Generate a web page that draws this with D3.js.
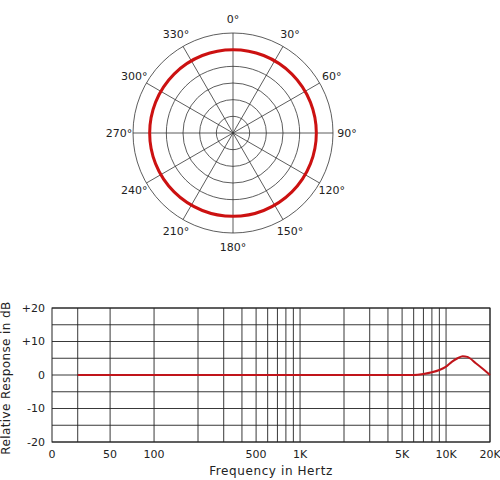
<!DOCTYPE html>
<html>
<head>
<meta charset="utf-8">
<script src="https://cdn.jsdelivr.net/npm/d3@7"></script>
<style>
  body { margin: 0; background: #fff; }
  text { font-family: "DejaVu Sans", sans-serif; fill: #222; }
</style>
</head>
<body>
<svg id="chart" width="500" height="480"></svg>
<script>
// Polar pattern data
const polarAngles = [0, 30, 60, 90, 120, 150, 180, 210, 240, 270, 300, 330];
const polarRings = [1, 2, 3, 4, 5, 6];
const polarLevel = 5; // omni pattern sits on the 5th ring

// Frequency response data
const freqHz = [30, 100, 1000, 6000, 7000, 8000, 9000, 10000, 11000, 12000, 13000, 14000, 16000, 18000, 20000];
const responseDb = [0, 0, 0, 0, 0.3, 0.8, 1.5, 2.5, 4, 5, 5.6, 5.4, 3.5, 1.7, 0];
const gridHz = [30, 50, 100, 200, 300, 400, 500, 600, 700, 800, 900, 1000, 2000, 3000, 4000, 5000, 6000, 7000, 8000, 9000, 10000, 20000];
const freqTickHz = [20, 50, 100, 500, 1000, 5000, 10000, 20000];
const freqTickLabels = ["0", "50", "100", "500", "1K", "5K", "10K", "20K"];
const dbTicks = [20, 10, 0, -10, -20];
const dbTickLabels = ["+20", "+10", "0", "-10", "-20"];

const svg = d3.select("#chart");

// ---- polar plot ----
const cx = 233, cy = 133, R = 100;
const r = d3.scaleLinear().domain([0, 6]).range([0, R]);
const polar = svg.append("g").attr("transform", `translate(${cx},${cy})`);

polar.selectAll("circle.ring").data(polarRings).join("circle")
  .attr("class", "ring").attr("r", d => r(d))
  .attr("fill", "none").attr("stroke", "#333").attr("stroke-width", 0.8);

polar.selectAll("line.spoke").data(polarAngles).join("line")
  .attr("class", "spoke")
  .attr("x1", 0).attr("y1", 0)
  .attr("x2", d => R * Math.sin(d * Math.PI / 180))
  .attr("y2", d => -R * Math.cos(d * Math.PI / 180))
  .attr("stroke", "#333").attr("stroke-width", 0.8);

polar.append("circle").attr("r", r(polarLevel))
  .attr("fill", "none").attr("stroke", "#cc1111").attr("stroke-width", 3);

polar.selectAll("text.ang").data(polarAngles).join("text")
  .attr("class", "ang")
  .attr("x", d => 114 * Math.sin(d * Math.PI / 180))
  .attr("y", d => -114 * Math.cos(d * Math.PI / 180))
  .attr("text-anchor", "middle").attr("dominant-baseline", "central")
  .attr("font-size", 11)
  .text(d => d + "°");

// ---- frequency response ----
const plotLeft = 52, plotRight = 490, plotTop = 308, plotBottom = 442;
const x = d3.scaleLog().domain([20, 20000]).range([plotLeft, plotRight]);
const y = d3.scaleLinear().domain([-20, 20]).range([plotBottom, plotTop]);
const fr = svg.append("g");

fr.selectAll("line.h").data(d3.range(-20, 21, 5)).join("line")
  .attr("class", "h").attr("x1", plotLeft).attr("x2", plotRight)
  .attr("y1", d => y(d)).attr("y2", d => y(d))
  .attr("stroke", "#222").attr("stroke-width", 0.9);

fr.selectAll("line.v").data(gridHz).join("line")
  .attr("class", "v").attr("y1", plotTop).attr("y2", plotBottom)
  .attr("x1", d => x(d)).attr("x2", d => x(d))
  .attr("stroke", "#222").attr("stroke-width", 0.9);

fr.append("rect").attr("x", plotLeft).attr("y", plotTop)
  .attr("width", plotRight - plotLeft).attr("height", plotBottom - plotTop)
  .attr("fill", "none").attr("stroke", "#222").attr("stroke-width", 1);

fr.append("path")
  .datum(freqHz.map((f, i) => [f, responseDb[i]]))
  .attr("d", d3.line().x(d => x(d[0])).y(d => y(d[1])).curve(d3.curveMonotoneX))
  .attr("fill", "none").attr("stroke", "#c0141a").attr("stroke-width", 2);

fr.selectAll("text.xt").data(freqTickHz).join("text")
  .attr("class", "xt").attr("x", d => x(d)).attr("y", plotBottom + 16)
  .attr("text-anchor", "middle").attr("font-size", 11)
  .text((d, i) => freqTickLabels[i]);

fr.selectAll("text.yt").data(dbTicks).join("text")
  .attr("class", "yt").attr("x", 45).attr("y", d => y(d))
  .attr("text-anchor", "end").attr("dominant-baseline", "central").attr("font-size", 11)
  .text((d, i) => dbTickLabels[i]);

fr.append("text").attr("x", (plotLeft + plotRight) / 2).attr("y", 475)
  .attr("text-anchor", "middle").attr("font-size", 12).attr("letter-spacing", 0.6)
  .text("Frequency in Hertz");

fr.append("text").attr("transform", `translate(10,${(plotTop + plotBottom) / 2 + 3}) rotate(-90)`)
  .attr("text-anchor", "middle").attr("font-size", 12).attr("letter-spacing", 0.4)
  .text("Relative Response in dB");
</script>
</body>
</html>
